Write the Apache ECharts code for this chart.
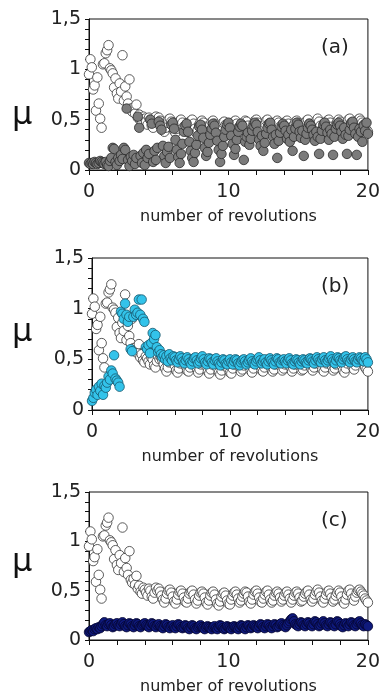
<!DOCTYPE html>
<html>
<head>
<meta charset="utf-8">
<script src="https://cdn.jsdelivr.net/npm/echarts@6/dist/echarts.min.js"></script>
<style>
  html, body { margin: 0; padding: 0; background: #fff; }
  #chart { width: 383px; height: 698px; }
</style>
</head>
<body>
<div id="chart"></div>
<script>
// revolutions sampled every 0.1 from 0 to 20 (one line per revolution)
var step = 0.1;

// reference curve (open circles), same in all three panels
var refMu = [
  0.95,1.10,1.02,0.80,0.84,0.59,0.92,0.66,0.51,0.42,
  1.05,1.06,1.16,1.19,1.24,1.01,0.99,0.96,0.82,0.91,
  0.76,0.71,0.86,0.78,1.14,0.69,0.83,0.73,0.66,0.90,
  0.61,0.58,0.62,0.56,0.65,0.52,0.55,0.49,0.47,0.53,
  0.51,0.48,0.45,0.52,0.50,0.44,0.42,0.48,0.53,0.50,
  0.52,0.49,0.45,0.41,0.38,0.42,0.47,0.50,0.51,0.48,
  0.44,0.39,0.37,0.41,0.46,0.49,0.50,0.47,0.43,0.39,
  0.38,0.42,0.47,0.49,0.50,0.46,0.41,0.37,0.40,0.45,
  0.48,0.49,0.47,0.43,0.38,0.36,0.40,0.45,0.48,0.49,
  0.46,0.41,0.37,0.35,0.39,0.44,0.47,0.48,0.45,0.40,
  0.37,0.36,0.41,0.45,0.48,0.49,0.46,0.42,0.38,0.40,
  0.44,0.47,0.49,0.48,0.44,0.39,0.37,0.41,0.46,0.49,
  0.50,0.47,0.43,0.39,0.38,0.42,0.46,0.49,0.50,0.46,
  0.41,0.38,0.40,0.45,0.48,0.49,0.47,0.43,0.39,0.41,
  0.45,0.48,0.49,0.46,0.42,0.38,0.41,0.45,0.48,0.49,
  0.47,0.43,0.39,0.40,0.44,0.47,0.49,0.50,0.46,0.41,
  0.39,0.42,0.46,0.49,0.51,0.48,0.44,0.40,0.38,0.42,
  0.46,0.49,0.50,0.47,0.43,0.39,0.41,0.45,0.48,0.50,
  0.48,0.44,0.39,0.37,0.41,0.46,0.50,0.51,0.47,0.42,
  0.40,0.44,0.48,0.50,0.51,0.49,0.47,0.45,0.42,0.40,
  0.38
];

// panel (a) grey filled circles
var grayMu = [
  0.07,0.06,0.07,0.06,0.08,0.07,0.06,0.07,0.09,0.08,
  0.07,0.06,0.08,0.05,0.04,0.09,0.12,0.22,0.21,0.08,
  0.05,0.12,0.09,0.15,0.11,0.22,0.20,0.61,0.10,0.04,
  0.13,0.09,0.15,0.06,0.12,0.53,0.42,0.14,0.07,0.17,
  0.05,0.20,0.12,0.16,0.50,0.46,0.08,0.19,0.10,0.22,
  0.48,0.44,0.40,0.24,0.14,0.07,0.18,0.23,0.12,0.45,
  0.47,0.41,0.30,0.20,0.13,0.07,0.16,0.26,0.38,0.44,
  0.46,0.38,0.28,0.19,0.12,0.08,0.17,0.25,0.34,0.43,
  0.45,0.40,0.32,0.22,0.14,0.18,0.27,0.35,0.41,0.46,
  0.44,0.37,0.29,0.20,0.08,0.16,0.24,0.33,0.40,0.45,
  0.47,0.42,0.34,0.26,0.15,0.21,0.30,0.38,0.43,0.46,
  0.44,0.10,0.28,0.33,0.37,0.25,0.31,0.39,0.44,0.47,
  0.45,0.38,0.30,0.24,0.34,0.19,0.27,0.36,0.42,0.46,
  0.47,0.40,0.33,0.26,0.35,0.12,0.29,0.37,0.43,0.46,
  0.44,0.39,0.31,0.35,0.28,0.40,0.19,0.33,0.41,0.47,
  0.45,0.38,0.32,0.39,0.14,0.30,0.36,0.42,0.46,0.44,
  0.40,0.35,0.29,0.38,0.33,0.16,0.31,0.39,0.45,0.47,
  0.43,0.37,0.30,0.40,0.36,0.15,0.33,0.41,0.45,0.47,
  0.44,0.38,0.31,0.42,0.35,0.16,0.34,0.40,0.46,0.48,
  0.42,0.36,0.15,0.33,0.41,0.38,0.28,0.44,0.39,0.47,
  0.36
];

// panel (b) cyan filled circles
var cyanMu = [
  0.09,0.12,0.17,0.20,0.15,0.23,0.19,0.26,0.15,0.24,
  0.22,0.27,0.33,0.30,0.39,0.36,0.54,0.31,0.29,0.27,
  0.23,0.97,0.95,0.90,1.05,0.94,0.87,0.92,0.60,0.58,
  0.92,0.99,0.94,0.96,1.09,0.94,1.09,0.90,0.87,0.62,
  0.60,0.64,0.56,0.66,0.76,0.70,0.74,0.62,0.57,0.59,
  0.55,0.52,0.54,0.50,0.53,0.48,0.55,0.51,0.49,0.53,
  0.52,0.49,0.47,0.50,0.53,0.51,0.48,0.46,0.49,0.52,
  0.50,0.47,0.45,0.48,0.51,0.52,0.49,0.46,0.48,0.51,
  0.53,0.50,0.47,0.45,0.48,0.51,0.50,0.47,0.45,0.49,
  0.51,0.48,0.46,0.44,0.47,0.50,0.49,0.46,0.45,0.48,
  0.50,0.47,0.45,0.48,0.50,0.49,0.46,0.44,0.47,0.49,
  0.50,0.48,0.45,0.47,0.49,0.51,0.48,0.46,0.45,0.48,
  0.50,0.52,0.49,0.46,0.48,0.50,0.47,0.45,0.48,0.51,
  0.49,0.47,0.45,0.48,0.51,0.50,0.47,0.46,0.49,0.50,
  0.48,0.46,0.49,0.51,0.49,0.46,0.45,0.48,0.50,0.49,
  0.47,0.45,0.48,0.50,0.49,0.47,0.46,0.49,0.51,0.50,
  0.48,0.46,0.49,0.52,0.50,0.48,0.47,0.50,0.52,0.49,
  0.47,0.49,0.51,0.53,0.50,0.48,0.46,0.49,0.52,0.51,
  0.49,0.47,0.50,0.52,0.53,0.50,0.48,0.47,0.50,0.52,
  0.50,0.48,0.47,0.50,0.52,0.51,0.49,0.48,0.52,0.50,
  0.47
];

// panel (c) navy filled circles
var navyMu = [
  0.08,0.09,0.10,0.09,0.11,0.12,0.11,0.13,0.12,0.14,
  0.16,0.18,0.15,0.14,0.16,0.17,0.15,0.13,0.14,0.16,
  0.17,0.15,0.14,0.16,0.18,0.16,0.14,0.13,0.15,0.17,
  0.16,0.14,0.13,0.15,0.17,0.16,0.14,0.13,0.15,0.16,
  0.17,0.15,0.14,0.13,0.15,0.17,0.16,0.14,0.13,0.15,
  0.16,0.14,0.13,0.12,0.14,0.16,0.15,0.13,0.12,0.14,
  0.15,0.13,0.12,0.14,0.16,0.15,0.13,0.12,0.13,0.15,
  0.14,0.12,0.11,0.13,0.15,0.14,0.12,0.11,0.13,0.14,
  0.15,0.13,0.12,0.11,0.13,0.14,0.13,0.12,0.11,0.13,
  0.14,0.12,0.11,0.13,0.15,0.14,0.12,0.11,0.12,0.14,
  0.13,0.12,0.11,0.13,0.14,0.13,0.12,0.11,0.13,0.15,
  0.14,0.12,0.11,0.13,0.15,0.14,0.12,0.13,0.15,0.14,
  0.13,0.12,0.14,0.16,0.15,0.13,0.12,0.14,0.16,0.15,
  0.13,0.12,0.14,0.16,0.15,0.13,0.14,0.16,0.17,0.15,
  0.14,0.13,0.15,0.17,0.19,0.21,0.22,0.19,0.16,0.15,
  0.14,0.16,0.18,0.17,0.15,0.14,0.16,0.18,0.17,0.15,
  0.14,0.16,0.19,0.18,0.16,0.14,0.15,0.17,0.19,0.17,
  0.15,0.14,0.16,0.18,0.17,0.15,0.14,0.16,0.19,0.18,
  0.16,0.14,0.13,0.15,0.17,0.16,0.14,0.16,0.18,0.17,
  0.15,0.14,0.16,0.18,0.19,0.17,0.15,0.14,0.16,0.15,
  0.14
];

var xTicks = [0, 10, 20];
var yTicks = [0, 0.5, 1, 1.5];
var panelLabels = ["(a)", "(b)", "(c)"];
var xName = "number of revolutions";

function pairs(arr) {
  return arr.map(function (v, i) {
    return [Math.round(i * step * 10) / 10, v];
  });
}

var font = "DejaVu Sans, Arial, sans-serif";

// plot areas of the three panels, plus where the mu sits
var grids = [
  { left: 89, top: 19, width: 282, height: 151, muTop: 100 },
  { left: 92, top: 258, width: 280, height: 152, muTop: 317 },
  { left: 89, top: 492, width: 280, height: 148, muTop: 547 }
];

function near(v, list) {
  for (var i = 0; i < list.length; i++) {
    if (Math.abs(v - list[i]) < 1e-6) return true;
  }
  return false;
}

var xAxes = grids.map(function (g, i) {
  return {
    gridIndex: i,
    type: "value",
    min: 0,
    max: 20,
    interval: 2,
    name: xName,
    nameLocation: "middle",
    nameGap: 39,
    nameTextStyle: { fontFamily: font, fontSize: 16, color: "#222" },
    axisLine: { show: true, onZero: false, lineStyle: { color: "#111", width: 1 } },
    axisTick: { show: true, length: 5, lineStyle: { color: "#111" } },
    axisLabel: {
      fontFamily: font,
      fontSize: 19,
      color: "#222",
      margin: 13,
      formatter: function (v) { return near(v, xTicks) ? String(v) : ""; }
    },
    splitLine: { show: false }
  };
});

var yAxes = grids.map(function (g, i) {
  return {
    gridIndex: i,
    type: "value",
    min: 0,
    max: 1.5,
    interval: 0.1,
    axisLine: { show: true, lineStyle: { color: "#111", width: 1 } },
    axisTick: { show: true, length: 4, lineStyle: { color: "#111" } },
    axisLabel: {
      fontFamily: font,
      fontSize: 19,
      color: "#222",
      margin: 8,
      formatter: function (v) {
        if (!near(v, yTicks)) return "";
        return String(Math.round(v * 10) / 10).replace(".", ",");
      }
    },
    splitLine: { show: false }
  };
});

function scatter(i, data, fill, stroke) {
  return {
    type: "scatter",
    xAxisIndex: i,
    yAxisIndex: i,
    data: pairs(data),
    symbol: "circle",
    symbolSize: 9.5,
    itemStyle: { color: fill, borderColor: stroke, borderWidth: 0.8, opacity: 1 }
  };
}

var graphics = [];
grids.forEach(function (g, i) {
  graphics.push({
    type: "text",
    left: 12,
    top: g.muTop,
    style: { text: "μ", font: "32px " + font, fill: "#111" }
  });
  graphics.push({
    type: "text",
    left: 321,
    top: g.top + 19,
    style: { text: panelLabels[i], font: "20px " + font, fill: "#222" }
  });
});

var chart = echarts.init(document.getElementById("chart"));
chart.setOption({
  animation: false,
  backgroundColor: "#fff",
  grid: grids.map(function (g) {
    return {
      left: g.left, top: g.top, width: g.width, height: g.height,
      show: true, borderColor: "#111", borderWidth: 1, backgroundColor: "transparent"
    };
  }),
  xAxis: xAxes,
  yAxis: yAxes,
  graphic: graphics,
  series: [
    scatter(0, refMu, "#ffffff", "#333333"),
    scatter(0, grayMu, "#7b7b7b", "#2a2a2a"),
    scatter(1, refMu, "#ffffff", "#333333"),
    scatter(1, cyanMu, "#33c3ea", "#17566b"),
    scatter(2, refMu, "#ffffff", "#333333"),
    scatter(2, navyMu, "#0f1a7c", "#050530")
  ]
});
</script>
</body>
</html>
